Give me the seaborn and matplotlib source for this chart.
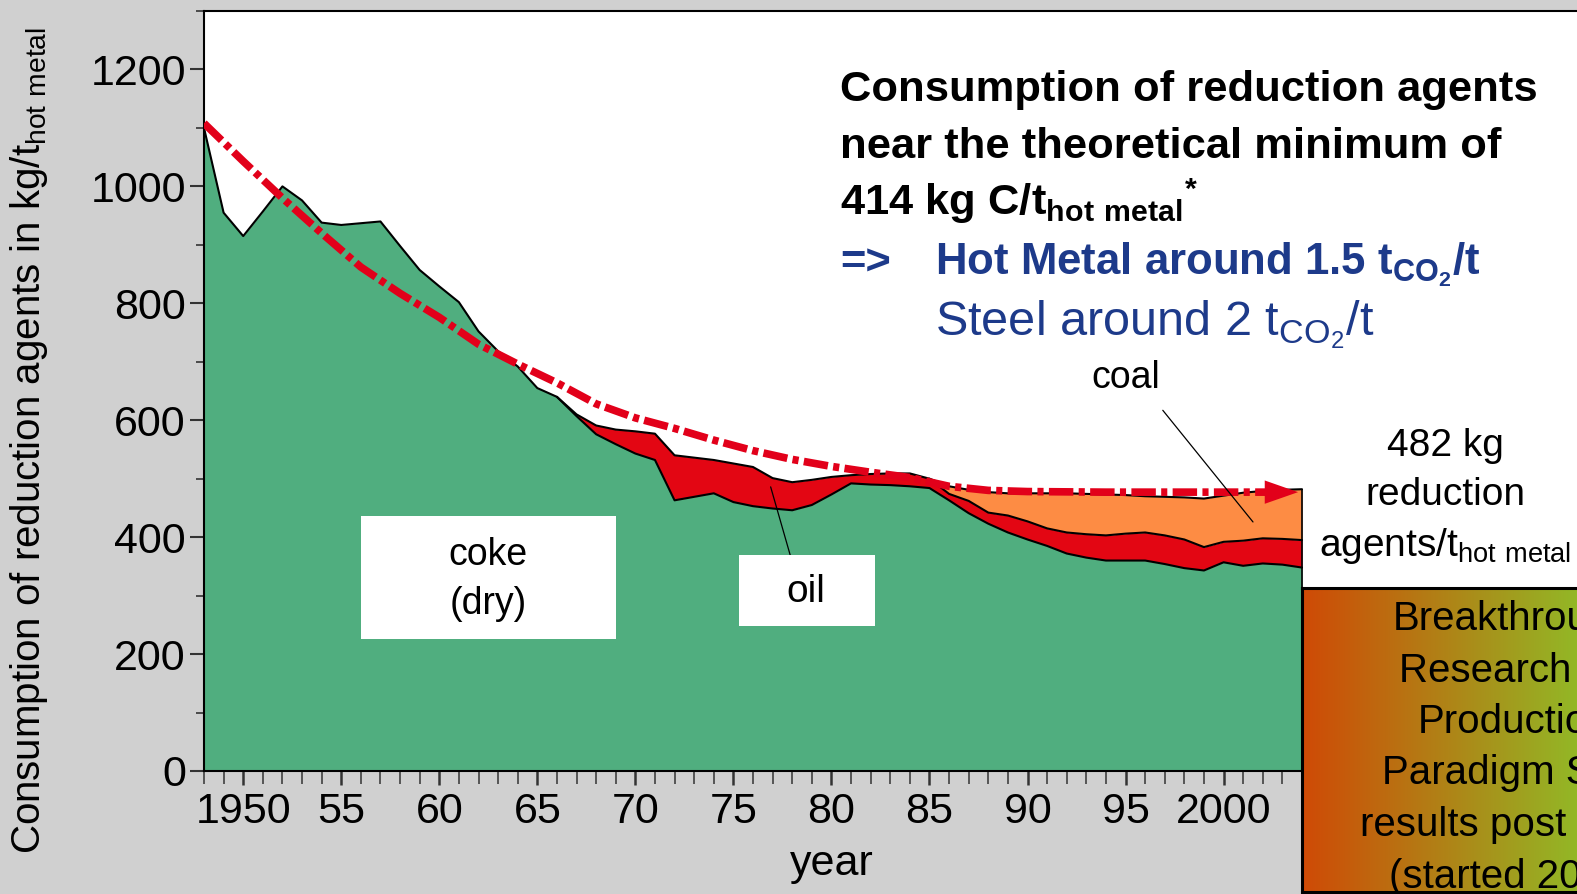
import matplotlib
matplotlib.use("Agg")
import matplotlib.pyplot as plt
from matplotlib.colors import LinearSegmentedColormap
from matplotlib.patches import Rectangle
from matplotlib.ticker import FixedLocator, MultipleLocator, NullFormatter
import numpy as np
import pandas as pd
import seaborn as sns

# consumption of reduction agents, kg per t hot metal
years = list(range(1948, 2005))
coke = [1100, 955, 915, 957, 1000, 976, 938, 934, 937, 940,
        898, 857, 829, 802, 752, 718, 692, 655, 640, 607,
        576, 559, 543, 532, 463, 469, 475, 460, 453, 449,
        446, 455, 473, 492, 490, 489, 487, 484, 463, 441,
        423, 408, 396, 385, 372, 365, 360, 360, 360, 354,
        347, 343, 357, 351, 355, 353, 348]
oil = [0, 0, 0, 0, 0, 0, 0, 0, 0, 0,
       0, 0, 0, 0, 0, 0, 0, 0, 0, 3,
       15, 25, 38, 45, 77, 67, 57, 66, 67, 52,
       48, 43, 30, 14, 18, 20, 22, 16, 11, 21,
       19, 29, 31, 30, 36, 40, 43, 46, 48, 49,
       49, 40, 35, 43, 43, 44, 47]
coal = [0, 0, 0, 0, 0, 0, 0, 0, 0, 0,
        0, 0, 0, 0, 0, 0, 0, 0, 0, 0,
        0, 0, 0, 0, 0, 0, 0, 0, 0, 0,
        0, 0, 0, 0, 0, 0, 0, 0, 13, 19,
        35, 38, 48, 60, 67, 69, 70, 66, 62, 66,
        72, 83, 79, 82, 81, 84, 87]

# red dash-dot trend towards the minimum
trend_years = [1948, 1950, 1952, 1954, 1956, 1958, 1960, 1962, 1964, 1966,
               1968, 1970, 1972, 1974, 1976, 1978, 1980, 1982, 1984, 1986,
               1988, 1990, 1994, 1998, 2002, 2003.2]
trend_vals = [1108, 1043, 980, 920, 862, 817, 776, 730, 696, 664,
              628, 604, 586, 566, 548, 533, 521, 511, 502, 487,
              480, 478, 477, 477, 477, 477]

xtick_years = [1950, 1955, 1960, 1965, 1970, 1975, 1980, 1985, 1990, 1995, 2000]
xtick_labels = ['1950', '55', '60', '65', '70', '75', '80', '85', '90', '95', '2000']
ytick_vals = [0, 200, 400, 600, 800, 1000, 1200]

box_lines = ['Breakthrough', 'Research for', 'Production', 'Paradigm Shift',
             'results post 2020', '(started 2004)']

df = pd.DataFrame({'year': years, 'coke': coke, 'oil': oil, 'coal': coal})
df['oil_top'] = df['coke'] + df['oil']
df['total'] = df['oil_top'] + df['coal']

sns.set_style('white')
plt.rcParams['font.family'] = ['Liberation Sans', 'DejaVu Sans']
plt.rcParams['text.color'] = 'black'
plt.rcParams['axes.labelcolor'] = 'black'

GREEN = '#50ae7f'
RED = '#e30613'
ORANGE = '#fd8c44'
BLUE = '#1d3a8a'
GREY = '#d0d0d0'

W, H = 1577, 894
fig = plt.figure(figsize=(W / 100, H / 100), dpi=100, facecolor=GREY)


def fx(px):
    return px / W


def fy(py):
    return 1 - py / H


# main axes: 1948 at x=204 px, 2004 at x=1302 px, stretched to the right edge
ax = fig.add_axes([fx(204), fy(771), fx(1577) - fx(204), (771 - 11) / H])
ax.set_facecolor('white')
per_year = (1302 - 204) / (2004 - 1948)
ax.set_xlim(1948, 1948 + (1577 - 204) / per_year)
ax.set_ylim(0, 1300)

ax.fill_between(df['year'], 0, df['coke'], color=GREEN, lw=0)
ax.fill_between(df['year'], df['coke'], df['oil_top'], color=RED, lw=0)
ax.fill_between(df['year'], df['oil_top'], df['total'], color=ORANGE, lw=0)

sns.lineplot(data=df, x='year', y='coke', color='black', lw=1.5, ax=ax)
sns.lineplot(data=df[df['year'] >= 1966], x='year', y='oil_top', color='black', lw=1.5, ax=ax)
sns.lineplot(data=df[df['year'] >= 1985], x='year', y='total', color='black', lw=1.5, ax=ax)
ax.vlines(df['year'].iloc[-1], 0, df['total'].iloc[-1], color='black', lw=1.2)

ax.plot(trend_years, trend_vals, color='#e2001a', lw=5.5,
        ls=(0, (3.2, 0.7, 0.8, 0.7)), dash_capstyle='butt', zorder=5)
ax.annotate('', xy=(2003.8, trend_vals[-1]), xytext=(2002.6, trend_vals[-1]),
            arrowprops=dict(arrowstyle='-|>,head_length=1.2,head_width=0.42',
                            color='#e2001a', lw=0, mutation_scale=20,
                            shrinkA=0, shrinkB=0), zorder=6)

# label boxes
ax.add_patch(Rectangle((1956.0, 226), 13.0, 210, facecolor='white', edgecolor='none', zorder=7))
ax.text(1962.5, 370, 'coke', ha='center', va='center', fontsize=27, zorder=8)
ax.text(1962.5, 286, '(dry)', ha='center', va='center', fontsize=27, zorder=8)
ax.add_patch(Rectangle((1975.3, 248), 6.9, 121, facecolor='white', edgecolor='none', zorder=7))
ax.text(1978.7, 306, 'oil', ha='center', va='center', fontsize=28, zorder=8)
ax.plot([1976.9, 1977.9], [486, 369], color='black', lw=0.9, zorder=6)
ax.text(1995.0, 673, 'coal', ha='center', va='center', fontsize=27, zorder=8)
ax.plot([1996.9, 2001.5], [617, 426], color='black', lw=0.9, zorder=6)

# axes styling
for side in ['top', 'left', 'bottom']:
    ax.spines[side].set_color('black')
    ax.spines[side].set_linewidth(1.5)
ax.spines['right'].set_visible(False)

ax.yaxis.set_major_locator(FixedLocator(ytick_vals))
ax.yaxis.set_minor_locator(MultipleLocator(100))
ax.xaxis.set_major_locator(FixedLocator(xtick_years))
ax.xaxis.set_minor_locator(FixedLocator(years))
ax.set_xticklabels(xtick_labels)
ax.xaxis.set_minor_formatter(NullFormatter())
ax.tick_params(axis='y', which='major', direction='out', left=True, length=10,
               width=1.5, pad=3, labelsize=31, color='#333333', labelcolor='black')
ax.tick_params(axis='y', which='minor', direction='out', left=True, length=6,
               width=1.2, color='#333333')
ax.tick_params(axis='x', which='major', direction='out', bottom=True, length=10,
               width=1.8, pad=5, labelsize=31, color='#333333', labelcolor='black')
ax.tick_params(axis='x', which='minor', direction='out', bottom=True, length=9,
               width=1.1, color='#333333')

ax.set_ylabel(r'Consumption of reduction agents in kg/t$_{\mathregular{hot\ metal}}$', fontsize=29)
ax.yaxis.set_label_coords(-0.112, 0.435)
ax.set_xlabel('year', fontsize=31)
ax.xaxis.label.set_va('baseline')
ax.xaxis.set_label_coords(0.457, -0.137)

# headline text
fig.text(fx(840), fy(101), 'Consumption of reduction agents',
         weight='bold', fontsize=31.3, va='baseline')
fig.text(fx(840), fy(158), 'near the theoretical minimum of',
         weight='bold', fontsize=31.3, va='baseline')
fig.text(fx(840), fy(215), r'414 kg C/t$_{\mathregular{hot\ metal}}$$^{\mathregular{*}}$',
         weight='bold', fontsize=31.3, va='baseline')
fig.text(fx(840), fy(275), '=>', weight='bold', fontsize=31.3,
         va='baseline', color=BLUE)
fig.text(fx(935), fy(275), r'Hot Metal around 1.5 t$_{\mathregular{CO}_{\mathregular{2}}}$/t',
         weight='bold', fontsize=31.5, va='baseline', color=BLUE)
fig.text(fx(935), fy(335), r'Steel around 2 t$_{\mathregular{CO}_{\mathregular{2}}}$/t',
         fontsize=35, va='baseline', color=BLUE)

fig.text(fx(1445), fy(456), '482 kg', ha='center', va='baseline', fontsize=28)
fig.text(fx(1445), fy(505), 'reduction', ha='center', va='baseline', fontsize=28)
fig.text(fx(1445), fy(556), r'agents/t$_{\mathregular{hot\ metal}}$', ha='center',
         va='baseline', fontsize=28)

# gradient box at the lower right
bx = fig.add_axes([fx(1302), fy(892), fx(1577) - fx(1302), (892 - 588) / H], zorder=10)
grad = LinearSegmentedColormap.from_list('grad', ['#cf4a06', '#93b726'])
bx.imshow(np.linspace(0, 1, 256)[None, :], cmap=grad, aspect='auto',
          extent=(0, 1, 0, 1))
bx.set_xlim(0, 1)
bx.set_ylim(0, 1)
bx.set_xticks([])
bx.set_yticks([])
for side in ['top', 'left', 'bottom']:
    bx.spines[side].set_color('black')
    bx.spines[side].set_linewidth(2.2)
bx.spines['right'].set_visible(False)
for i, line in enumerate(box_lines):
    py = 630 + i * 51.5
    bx.text(fx(1514), fy(py), line, transform=fig.transFigure, ha='center',
            va='baseline', fontsize=29, clip_on=True)

fig.savefig('out.png', dpi=100, facecolor=fig.get_facecolor())
